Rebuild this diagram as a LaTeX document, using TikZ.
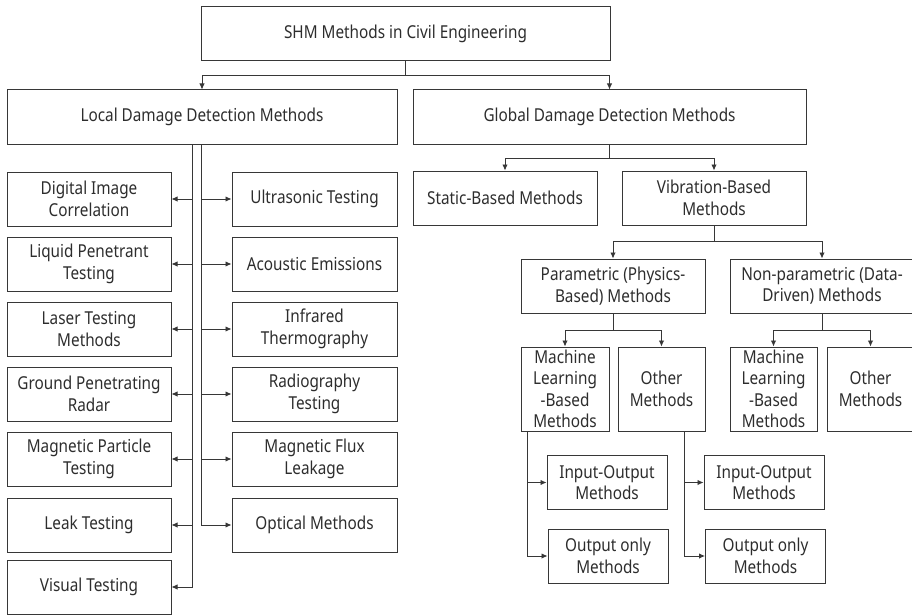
\documentclass[tikz,border=0pt]{standalone}
\usepackage{fontspec}
\setmainfont{Noto Sans}[FakeStretch=0.86]
\usetikzlibrary{arrows.meta, positioning}
\definecolor{boxline}{RGB}{55,55,55}
\definecolor{boxtext}{RGB}{45,45,45}

\begin{document}
\begin{tikzpicture}[x=1pt, y=-1pt,
		box/.style={draw=boxline, line width=1pt, minimum height=54pt, inner sep=1pt,
			align=center, text=boxtext, font=\fontsize{17.8}{21.5}\selectfont},
		arrow/.style={-{Latex[length=6pt, width=5.5pt]}, line width=0.9pt, draw=boxline}
	]
		\useasboundingbox (0,0) rectangle (912,615);
		\node[box, minimum width=409pt] (shm) at (405.5,34) {SHM Methods in Civil Engineering};
		\node[box, minimum width=390pt] (local) at (202,117) {Local Damage Detection Methods};
		\node[box, minimum width=393pt] (global) at (609.5,117) {Global Damage Detection Methods};
		\node[box, minimum width=184pt] (static) at (505,198) {Static-Based Methods};
		\node[box, minimum width=184pt] (vib) at (714,198) {Vibration-Based\\Methods};
		\node[box, minimum width=184pt] (param) at (613,286) {Parametric (Physics-\\Based) Methods};
		\node[box, minimum width=184pt] (nonparam) at (822,286) {Non-parametric (Data-\\Driven) Methods};
		\node[box, minimum width=88pt, minimum height=84pt] (mlP) at (565,389) {Machine\\Learning\\-Based\\Methods};
		\node[box, minimum width=87pt, minimum height=84pt] (othP) at (661.5,389) {Other\\Methods};
		\node[box, minimum width=87pt, minimum height=84pt] (mlN) at (773.5,389) {Machine\\Learning\\-Based\\Methods};
		\node[box, minimum width=87pt, minimum height=84pt] (othN) at (870.5,389) {Other\\Methods};
		\node[box, minimum width=120pt] (ioP) at (607,482.5) {Input-Output\\Methods};
		\node[box, minimum width=120pt] (ooP) at (608,556) {Output only\\Methods};
		\node[box, minimum width=120pt] (ioO) at (764,482.5) {Input-Output\\Methods};
		\node[box, minimum width=120pt] (ooO) at (765.5,556) {Output only\\Methods};

		\foreach \n/\y/\t in {dic/199/{Digital Image\\Correlation}, lpt/264/{Liquid Penetrant\\Testing},
			ltm/329/{Laser Testing\\Methods}, gpr/394/{Ground Penetrating\\Radar},
			mpt/459/{Magnetic Particle\\Testing}, leak/525/{Leak Testing}, vis/587/{Visual Testing}}
			\node[box, minimum width=164pt] (\n) at (89,\y) {\t};
		\foreach \n/\y/\t in {ut/199/{Ultrasonic Testing}, ae/264/{Acoustic Emissions},
			irt/329/{Infrared\\Thermography}, rt/394/{Radiography\\Testing},
			mfl/459/{Magnetic Flux\\Leakage}, om/525/{Optical Methods}}
			\node[box, minimum width=165pt] (\n) at (314.5,\y) {\t};

		\draw[arrow] (shm.south) -- ++(0,14) -| (local.north);
		\draw[arrow] (shm.south) -- ++(0,14) -| (global.north);
		\draw[arrow] (global.south) -- ++(0,14) -| (static.north);
		\draw[arrow] (global.south) -- ++(0,14) -| (vib.north);
		\draw[arrow] (vib.south) -- ++(0,16) -| (param.north);
		\draw[arrow] (vib.south) -- ++(0,16) -| (nonparam.north);
		\foreach \a/\b in {param/mlP, param/othP, nonparam/mlN, nonparam/othN}
			\draw[arrow] (\a.south) -- ++(0,17) -| (\b.north);

		\coordinate (ltrunk) at (192,144);
		\coordinate (rtrunk) at (201,144);
		\foreach \n in {dic,lpt,ltm,gpr,mpt,leak,vis}
			\draw[arrow] (ltrunk) |- (\n.east);
		\foreach \n in {ut,ae,irt,rt,mfl,om}
			\draw[arrow] (rtrunk) |- (\n.west);

		\coordinate (mlPdrop) at (527,431);
		\coordinate (othPdrop) at (684,431);
		\foreach \a/\b in {mlPdrop/ioP, mlPdrop/ooP, othPdrop/ioO, othPdrop/ooO}
			\draw[arrow] (\a) |- (\b.west);
	\end{tikzpicture}
\end{document}
